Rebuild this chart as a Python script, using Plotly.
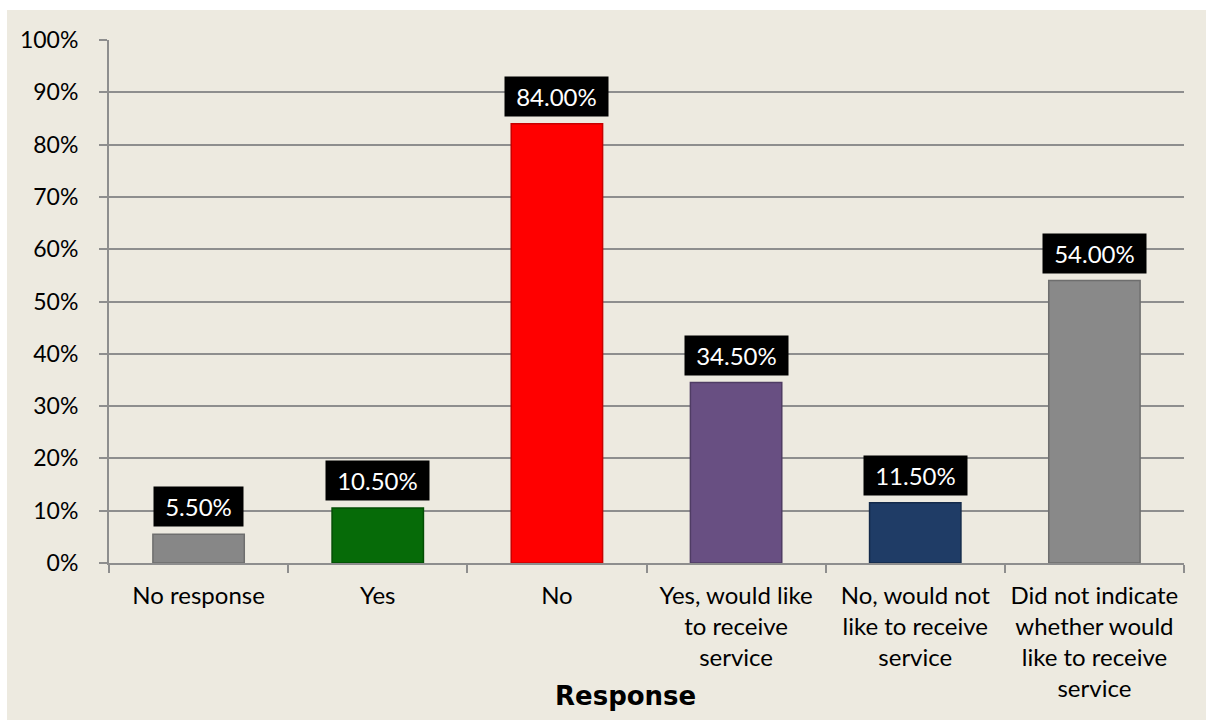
import plotly.graph_objects as go

# Survey responses and their shares
categories = [
    "No response",
    "Yes",
    "No",
    "Yes, would like<br>to receive<br>service",
    "No, would not<br>like to receive<br>service",
    "Did not indicate<br>whether would<br>like to receive<br>service",
]
shares = [0.055, 0.105, 0.84, 0.345, 0.115, 0.54]
bar_colors = ["#878787", "#066B08", "#FF0000", "#684F82", "#1F3C66", "#898989"]
edge_colors = ["#6E6E6E", "#034D04", "#C80000", "#4F3C64", "#142A4A", "#6E6E6E"]
y_ticks = [i / 10 for i in range(11)]
y_tick_labels = [f"{int(round(t * 100))}%" for t in y_ticks]

W, H = 1206, 720
left, right, top, bottom = 109, 1184, 40, 563
BG = "#EDEAE0"
GRID = "#8E8E8E"
FONT = "Lato"

fig = go.Figure()
fig.add_trace(go.Bar(
    x=categories,
    y=shares,
    marker=dict(color=bar_colors, line=dict(color=edge_colors, width=1.5)),
    width=0.51,
    hoverinfo="skip",
))

# Value labels in black boxes above each bar
for cat, v in zip(categories, shares):
    fig.add_annotation(
        x=cat, y=v, xref="x", yref="y",
        text=f"\u00a0{v:.2%}\u00a0",
        showarrow=False,
        yanchor="bottom",
        yshift=7,
        bgcolor="black",
        borderpad=5,
        font=dict(family=FONT, size=24, color="white"),
    )

# Axis title placed under the category labels
fig.add_annotation(
    x=(625 - left) / (right - left), y=-(696 - bottom) / (bottom - top),
    xref="paper", yref="paper",
    text="<b>Response</b>",
    showarrow=False,
    xanchor="center", yanchor="middle",
    font=dict(family="DejaVu Sans", size=26, color="black"),
)

# Chart-area background with a thin white border at the top and left
fig.add_shape(
    type="rect", xref="paper", yref="paper", layer="below",
    x0=(7 - left) / (right - left), x1=(W + 5 - left) / (right - left),
    y0=-(H + 5 - bottom) / (bottom - top), y1=1 + (top - 10) / (bottom - top),
    fillcolor=BG, line=dict(width=0),
)

fig.update_layout(
    width=W, height=H,
    margin=dict(l=left, r=W - right, t=top, b=H - bottom, pad=0),
    paper_bgcolor="white",
    plot_bgcolor=BG,
    showlegend=False,
    bargap=0.49,
    font=dict(family=FONT, size=24, color="black"),
)
fig.update_xaxes(
    type="category",
    showgrid=False,
    showline=True, linecolor=GRID, linewidth=2,
    ticks="outside", tickcolor=GRID, ticklen=8, tickwidth=2,
    tickson="boundaries",
    ticklabelstandoff=10,
    tickfont=dict(family=FONT, size=24, color="black"),
    range=[-0.5, len(categories) - 0.5],
)
fig.update_yaxes(
    range=[0, 1],
    tickvals=y_ticks, ticktext=y_tick_labels,
    showgrid=True, gridcolor=GRID, gridwidth=2,
    showline=True, linecolor=GRID, linewidth=2,
    ticks="outside", tickcolor=GRID, ticklen=8, tickwidth=2,
    ticklabelstandoff=16,
    tickfont=dict(family=FONT, size=23, color="black"),
    zeroline=False,
)

fig.write_html("out.html")
